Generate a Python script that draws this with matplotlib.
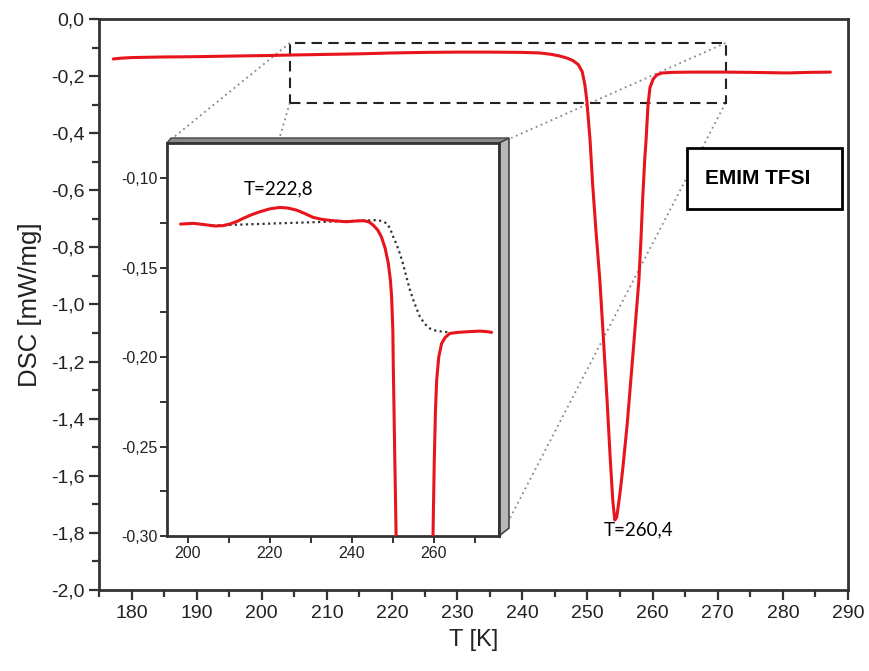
import numpy as np
import matplotlib
matplotlib.use('Agg')
import matplotlib.pyplot as plt
from matplotlib.patches import Rectangle, Polygon
from matplotlib.ticker import MultipleLocator, FuncFormatter

# --- DATA ---
# main DSC trace
main_T = [177.2, 178.5, 180.2, 185.0, 190.0, 195.0, 200.8, 205.0, 210.0, 215.0,
          220.0, 225.0, 230.0, 235.0, 240.0, 242.7, 244.5, 245.8, 247.0, 247.8,
          248.6, 249.2, 249.6, 249.9, 250.4, 250.8, 251.3, 251.9, 252.4, 253.0,
          253.5, 253.9, 254.2, 254.5, 255.0, 255.4, 256.1, 257.0, 257.9, 258.2,
          258.5, 258.8, 259.0, 259.3, 259.6, 260.1, 260.7, 261.5, 263.0, 266.0,
          270.9, 275.0, 280.7, 284.0, 287.3]
main_dsc = [-0.140, -0.137, -0.135, -0.133, -0.132, -0.130, -0.128, -0.126, -0.124, -0.122,
            -0.119, -0.117, -0.116, -0.116, -0.117, -0.119, -0.124, -0.130, -0.138, -0.146,
            -0.160, -0.185, -0.230, -0.284, -0.424, -0.580, -0.740, -0.914, -1.100, -1.330,
            -1.540, -1.690, -1.755, -1.745, -1.660, -1.580, -1.420, -1.170, -0.914, -0.780,
            -0.620, -0.490, -0.424, -0.300, -0.240, -0.210, -0.195, -0.189, -0.187, -0.186,
            -0.186, -0.187, -0.189, -0.187, -0.186]

# inset trace (zoomed part)
ins_T = [198.2, 201.3, 204.0, 206.6, 208.5, 210.2, 212.0, 213.5, 215.5, 217.6,
         220.0, 222.4, 224.5, 226.5, 228.5, 230.6, 233.0, 235.4, 238.7, 241.0,
         242.8, 244.2, 245.2, 246.3, 247.2, 248.1, 248.9, 249.4, 249.7, 250.0,
         250.1, 250.5, 250.8, 251.0,
         259.6, 259.8, 260.1, 260.4, 260.7, 261.2, 261.9, 262.8, 263.9, 266.0,
         268.0, 271.2, 273.0, 274.1]
ins_dsc = [-0.1257, -0.1253, -0.1260, -0.1268, -0.1266, -0.1257, -0.1242, -0.1225, -0.1205, -0.1188,
           -0.1172, -0.1164, -0.1168, -0.1179, -0.1198, -0.1220, -0.1232, -0.1238, -0.1244, -0.1240,
           -0.1238, -0.1245, -0.1263, -0.1290, -0.1328, -0.1390, -0.1477, -0.1570, -0.1663, -0.1850,
           -0.2035, -0.2593, -0.3000, -0.3300,
           -0.3300, -0.3000, -0.2593, -0.2300, -0.2128, -0.2000, -0.1924, -0.1890, -0.1868, -0.1862,
           -0.1859, -0.1855, -0.1858, -0.1862]

# dotted baseline in inset
base_T = [206.0, 246.0, 247.3, 248.5, 249.3, 250.1, 250.9, 251.7, 252.5, 253.3,
          254.1, 255.0, 255.8, 256.6, 257.8, 259.0, 260.5, 262.3, 264.0]
base_dsc = [-0.1265, -0.1235, -0.1240, -0.1253, -0.1280, -0.1328, -0.1370, -0.1421, -0.1480, -0.1551,
            -0.1620, -0.1682, -0.1730, -0.1775, -0.1815, -0.1840, -0.1853, -0.1859, -0.1862]

# zoom rectangle on main plot and corners of inset (main data units)
zoom_T = [204.3, 271.2]
zoom_dsc = [-0.294, -0.084]
conn_from = [(204.3, -0.084), (204.3, -0.294), (271.2, -0.084), (271.2, -0.294)]
conn_to = [(185.4, -0.434), (202.5, -0.434), (238.3, -0.417), (237.0, -1.797)]

red = '#e8141c'


def comma(v, pos, nd):
    s = f'{v:.{nd}f}'.replace('.', ',')
    if s.startswith('-') and float(v) == 0:
        s = s[1:]
    return s


fig = plt.figure(figsize=(8.69, 6.71), dpi=100)
ax = fig.add_axes([0.1139, 0.1207, 0.8619, 0.851])

ax.plot(main_T, main_dsc, color=red, lw=2.2, zorder=3,
        solid_joinstyle='round', solid_capstyle='round')

ax.set_xlim(175, 290)
ax.set_ylim(-2.0, 0.0)
ax.xaxis.set_major_locator(MultipleLocator(10))
ax.xaxis.set_minor_locator(MultipleLocator(5))
ax.yaxis.set_major_locator(MultipleLocator(0.2))
ax.yaxis.set_minor_locator(MultipleLocator(0.1))
ax.yaxis.set_major_formatter(FuncFormatter(lambda v, p: comma(v, p, 1)))
ax.xaxis.set_major_formatter(FuncFormatter(lambda v, p: f'{v:.0f}'))
ax.tick_params(which='both', direction='out', width=1.6, color='#333333',
               labelsize=14, labelcolor='#222222', labelfontfamily='Liberation Sans')
ax.tick_params(which='major', length=7)
ax.tick_params(which='minor', length=5)
for sp in ax.spines.values():
    sp.set_linewidth(2)
    sp.set_color('#333333')

ax.set_xlabel('T [K]', fontsize=17, family='Liberation Sans', color='#222222', labelpad=5)
ax.set_ylabel('DSC [mW/mg]', fontsize=18.5, family='Liberation Sans', color='#222222', labelpad=6)

# dashed zoom rectangle
ax.add_patch(Rectangle((zoom_T[0], zoom_dsc[0]), zoom_T[1] - zoom_T[0], zoom_dsc[1] - zoom_dsc[0],
                       fill=False, ls=(0, (5, 3)), lw=1.5, ec='#222222', zorder=2))
# dotted connectors
for (x0, y0), (x1, y1) in zip(conn_from, conn_to):
    ax.plot([x0, x1], [y0, y1], ls=(0, (1, 2)), color='#888888', lw=1.3, zorder=1)

ax.text(257.8, -1.79, 'T=260,4', fontsize=13.5, family='Lato', ha='center', va='center')

# label box
ax.add_patch(Rectangle((0.785, 0.667), 0.207, 0.107, transform=ax.transAxes,
                       fill=True, fc='white', ec='black', lw=2, zorder=4))
ax.text(0.880, 0.720, 'EMIM TFSI', transform=ax.transAxes, fontsize=15, fontweight='bold',
        family='Liberation Sans', ha='center', va='center', zorder=5)

# --- INSET ---
axi = fig.add_axes([0.1922, 0.2012, 0.3820, 0.5857])
axi.plot(base_T, base_dsc, ls=(0, (1, 1.5)), color='#333333', lw=1.6, zorder=2)
axi.plot(ins_T, ins_dsc, color=red, lw=2.2, zorder=3,
         solid_joinstyle='round', solid_capstyle='round')
axi.set_xlim(194.9, 275.9)
axi.set_ylim(-0.30, -0.0804)
axi.xaxis.set_major_locator(MultipleLocator(20))
axi.xaxis.set_minor_locator(MultipleLocator(10))
axi.yaxis.set_major_locator(MultipleLocator(0.05))
axi.yaxis.set_minor_locator(MultipleLocator(0.025))
axi.yaxis.set_major_formatter(FuncFormatter(lambda v, p: comma(v, p, 2)))
axi.tick_params(which='both', direction='out', width=1.4, color='#333333', length=5,
                labelsize=11.5, labelcolor='#222222', labelfontfamily='Liberation Sans', pad=2)
for sp in axi.spines.values():
    sp.set_linewidth(2)
    sp.set_color('#333333')

axi.text(222.0, -0.106, 'T=222,8', fontsize=13.5, family='Lato', ha='center', va='center')

# 3D-like shadow on inset frame
dx, dy = 10 / 332, 5 / 393
axi.add_patch(Polygon([(1, 0), (1 + dx, 0.02), (1 + dx, 1 + dy), (1, 1)], closed=True,
                      transform=axi.transAxes, fc='#b8b8b8', ec='#444444', lw=1.2, clip_on=False))
axi.add_patch(Polygon([(0, 1), (0.012, 1 + dy), (1 + dx, 1 + dy), (1, 1)], closed=True,
                      transform=axi.transAxes, fc='#8a8a8a', ec='#444444', lw=1.0, clip_on=False))

fig.savefig('out.png', dpi=100)
